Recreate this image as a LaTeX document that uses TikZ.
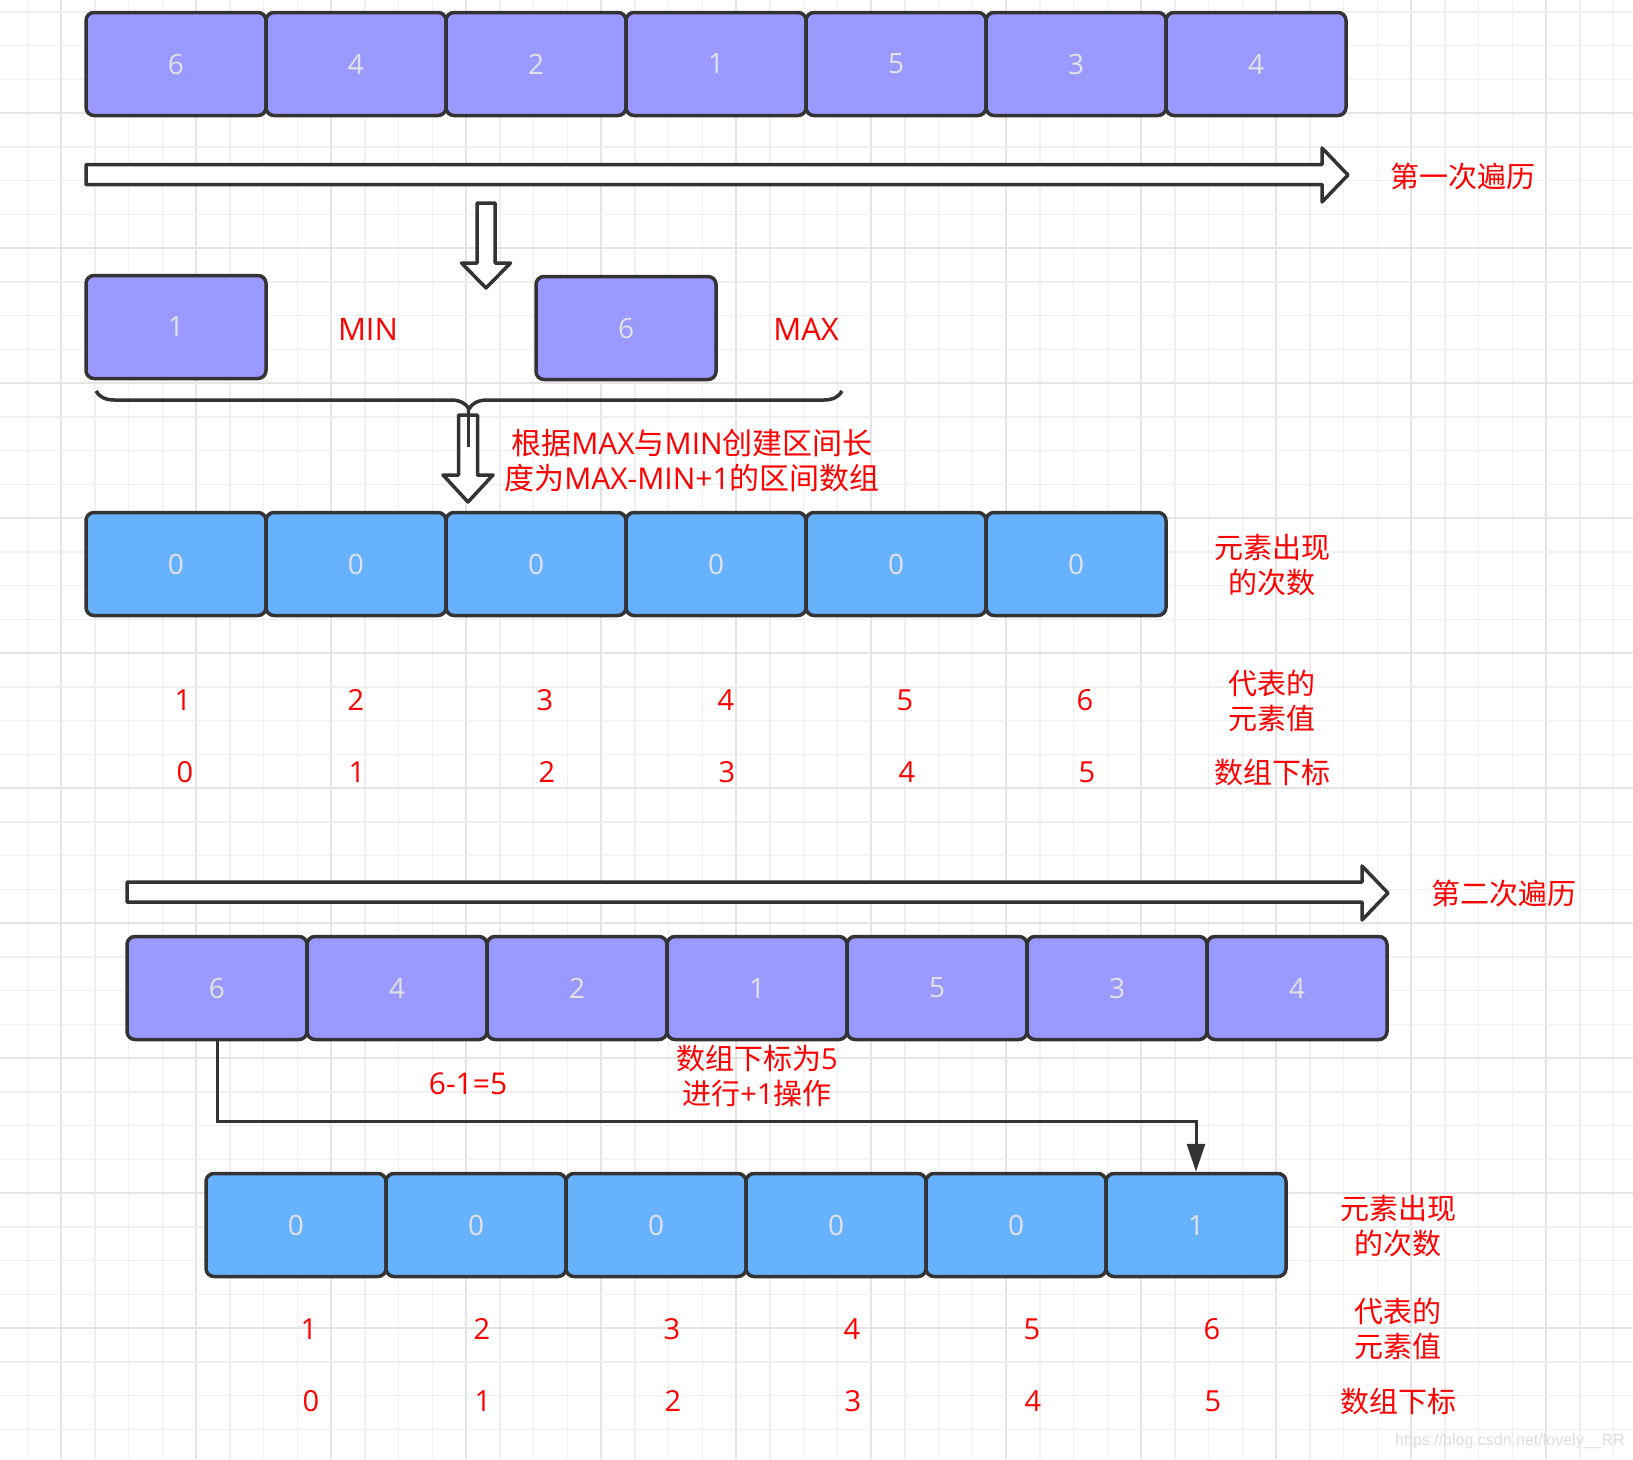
\documentclass[tikz,border=0pt]{standalone}
\usepackage{fontspec}
\setmainfont{Open Sans}
\newfontfamily\cjk{Noto Sans CJK SC}
\newfontfamily\wmfont{Liberation Sans}
\usetikzlibrary{decorations.pathreplacing,arrows.meta}
\definecolor{gridminor}{RGB}{239,239,239}
\definecolor{gridmajor}{RGB}{228,228,228}
\definecolor{strokec}{RGB}{51,51,51}
\definecolor{purp}{RGB}{153,153,255}
\definecolor{blu}{RGB}{102,178,255}
\definecolor{boxtxt}{RGB}{226,226,226}
\definecolor{redtxt}{RGB}{255,0,0}
\definecolor{wmc}{RGB}{222,222,222}
\begin{document}
\begin{tikzpicture}[x=1pt,y=-1pt,
  cell/.style={draw=strokec, line width=3.5pt, rounded corners=8pt, minimum width=180pt, minimum height=103pt, inner sep=0pt, text=boxtxt, font=\fontsize{28}{35}\selectfont},
  pcell/.style={cell, fill=purp},
  bcell/.style={cell, fill=blu},
  lab/.style={text=redtxt, font=\fontsize{29}{35}\selectfont, align=center, inner sep=0pt},
  cjklab/.style={lab, font=\cjk\fontsize{29}{35}\selectfont},
  hollow/.style={draw=strokec, fill=white, line width=3.5pt, line join=round},
  conn/.style={draw=strokec, line width=3pt, -{Triangle[length=28pt,width=18pt]}},
]
\useasboundingbox (0,0) rectangle (1633,1459);
\fill[white] (0,0) rectangle (1633,1459);
% grid
\foreach \i in {3,...,50}{
  \pgfmathsetmacro\gx{-74+33.75*\i}
  \pgfmathtruncatemacro\gm{mod(\i,4)}
  \ifnum\gm=0 \draw[gridmajor,line width=2pt] (\gx,0) -- (\gx,1459);
  \else \draw[gridminor,line width=1.5pt] (\gx,0) -- (\gx,1459); \fi
}
\foreach \j in {1,...,43}{
  \pgfmathsetmacro\gy{-22+33.75*\j}
  \pgfmathtruncatemacro\gm{mod(\j,4)}
  \ifnum\gm=0 \draw[gridmajor,line width=2pt] (0,\gy) -- (1633,\gy);
  \else \draw[gridminor,line width=1.5pt] (0,\gy) -- (1633,\gy); \fi
}
% row 1
\foreach \v [count=\k from 0] in {6,4,2,1,5,3,4}
  \node[pcell] (a\k) at ({176+180*\k},64) {\v};
% first traversal arrow
\draw[hollow] (86,164.5) -- (1322,164.5) -- (1322,148) -- (1348,175) -- (1322,202) -- (1322,184.5) -- (86,184.5) -- cycle;
\node[cjklab] (t1) at (1463,176) {第一次遍历};
% down arrow 1
\draw[hollow] (477,203) -- (495,203) -- (495,263) -- (510.5,263) -- (486,288) -- (461.5,263) -- (477,263) -- cycle;
% min / max
\node[pcell] (mn) at (176,327) {1};
\node[lab, font=\fontsize{31}{35}\selectfont] (tmin) at (368,329) {MIN};
\node[pcell] (mx) at (626,328) {6};
\node[lab, font=\fontsize{31}{35}\selectfont] (tmax) at (806,329) {MAX};
% down arrow 2 and brace
\draw[hollow] (458.5,415) -- (477.5,415) -- (477.5,475) -- (493,475) -- (468,502) -- (443,475) -- (458.5,475) -- cycle;
\draw[strokec, line width=3.5pt, decorate, decoration={brace, amplitude=18pt, mirror}] (96,391) -- (842,391);
\draw[strokec, line width=3pt] (468,408) -- (468,447);
\node[lab, font=\fontsize{30}{35}\selectfont] (tdesc) at (692,461) {{\cjk 根据}MAX{\cjk 与}MIN{\cjk 创建区间长}\\{\cjk 度为}MAX-MIN+1{\cjk 的区间数组}};
% row 2
\foreach \k in {0,...,5}
  \node[bcell] (b\k) at ({176+180*\k},564) {0};
\node[cjklab] (tc1) at (1272,565) {元素出现\\的次数};
\foreach \v/\x [count=\k from 0] in {1/183,2/356,3/545,4/726,5/905,6/1085}
  \node[lab] (v\k) at (\x,700) {\v};
\foreach \v/\x [count=\k from 0] in {0/185,1/357,2/547,3/727,4/907,5/1087}
  \node[lab] (i\k) at (\x,772) {\v};
\node[cjklab] (tv1) at (1272,701) {代表的\\元素值};
\node[cjklab] (ti1) at (1272,772) {数组下标};
% second traversal arrow
\draw[hollow] (127,882) -- (1362,882) -- (1362,866) -- (1388,893) -- (1362,920) -- (1362,902) -- (127,902) -- cycle;
\node[cjklab] (t2) at (1504,893) {第二次遍历};
% row 3
\foreach \v [count=\k from 0] in {6,4,2,1,5,3,4}
  \node[pcell] (c\k) at ({217+180*\k},988) {\v};
% row 4
\foreach \v [count=\k from 0] in {0,0,0,0,0,1}
  \node[bcell] (d\k) at ({296+180*\k},1225) {\v};
% connector
\draw[conn] (c0.south) -- ++(0,80) coordinate (bend) -| (d5.north);
\node[lab, font=\fontsize{30}{35}\selectfont] (tcalc) at (468,1084) {6-1=5};
\node[lab] (tinc) at (757,1076) {{\cjk 数组下标为}5\\{\cjk 进行}+1{\cjk 操作}};
\node[cjklab] (tc2) at (1398,1226) {元素出现\\的次数};
\foreach \v/\x [count=\k from 0] in {1/309,2/482,3/672,4/852,5/1032,6/1212}
  \node[lab] (w\k) at (\x,1329) {\v};
\foreach \v/\x [count=\k from 0] in {0/311,1/483,2/673,3/853,4/1033,5/1213}
  \node[lab] (j\k) at (\x,1401) {\v};
\node[cjklab] (tv2) at (1398,1329) {代表的\\元素值};
\node[cjklab] (ti2) at (1398,1401) {数组下标};
% watermark
\node[text=wmc, font=\wmfont\fontsize{16}{18}\selectfont, anchor=west, inner sep=0pt] (wm) at (1395,1441) {https://blog.csdn.net/lovely\_\_RR};
\end{tikzpicture}
\end{document}
